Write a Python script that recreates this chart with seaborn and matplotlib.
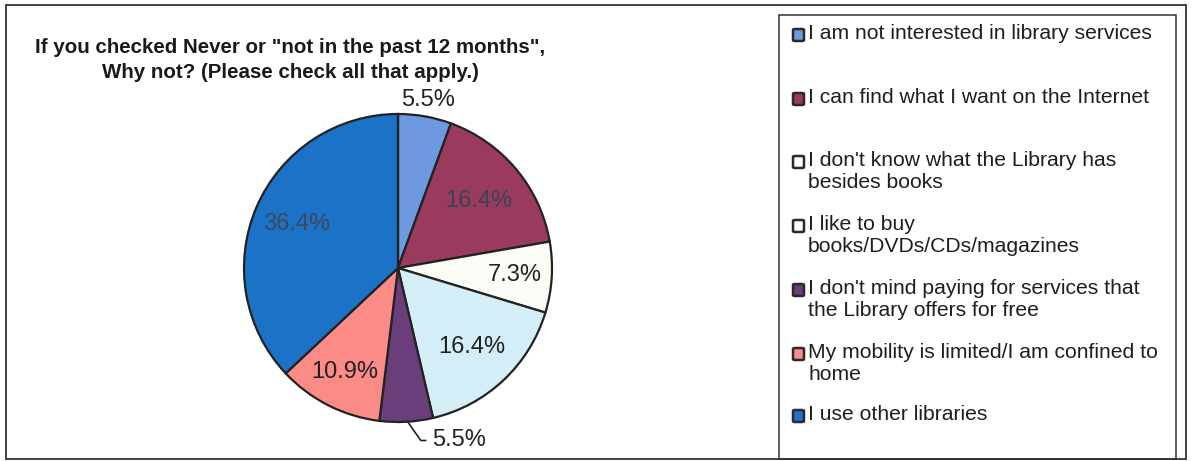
import matplotlib
matplotlib.use("Agg")
import matplotlib.pyplot as plt
import numpy as np
import seaborn as sns
from matplotlib.patches import Rectangle, FancyBboxPatch

# data
reasons = [
    "I am not interested in library services",
    "I can find what I want on the Internet",
    "I don't know what the Library has\nbesides books",
    "I like to buy\nbooks/DVDs/CDs/magazines",
    "I don't mind paying for services that\nthe Library offers for free",
    "My mobility is limited/I am confined to\nhome",
    "I use other libraries",
]
percents = [5.5, 16.4, 7.3, 16.4, 5.5, 10.9, 36.4]
colors = ["#6e98e0", "#9a3a5e", "#fcfcf6", "#d4eef8", "#6a3e7b", "#fa8b87", "#1b72c6"]
legend_colors = ["#6e98e0", "#9a3a5e", "#ffffff", "#ffffff", "#6a3e7b", "#fa8b87", "#1b72c6"]
title = 'If you checked Never or "not in the past 12 months",\nWhy not? (Please check all that apply.)'

sns.set_style("white")
plt.rcParams['font.family'] = ['Liberation Sans', 'DejaVu Sans']

W, H = 1193, 461
fig = plt.figure(figsize=(W / 100, H / 100), dpi=100)
fig.patch.set_facecolor("white")


def fx(px):
    return px / W


def fy(py):
    return 1 - py / H


# outer frame and legend box
fig.add_artist(Rectangle((fx(6), fy(459)), fx(1186) - fx(6), fy(5) - fy(459),
                         transform=fig.transFigure, fill=False, ec="#333333", lw=1.3))
fig.add_artist(Rectangle((fx(779), fy(459)), fx(1176) - fx(779), fy(15) - fy(459),
                         transform=fig.transFigure, fill=False, ec="#333333", lw=1.1))

# title
fig.text(fx(290), fy(60), title, ha="center", va="center", fontsize=14.8,
         fontweight="bold", color="#1a1a1a", linespacing=1.45)

# pie
cx, cy, r = 398, 268, 154
half = 160
ax = fig.add_axes([fx(cx - half), fy(cy + half), 2 * half / W, 2 * half / H])
lim = half / r
wedges, _ = ax.pie(percents, colors=colors, startangle=90, counterclock=False,
                   wedgeprops=dict(edgecolor="#222222", linewidth=1.6))
ax.set_xlim(-lim, lim)
ax.set_ylim(-lim, lim)
ax.set_aspect("equal")
ax.axis("off")

dists = [1.11, 0.68, 0.76, 0.70, None, 0.76, 0.72]
txt_colors = ["#222222", "#3a4450", "#222222", "#222222", "#222222", "#222222", "#3a4a58"]
for w, v, d, tc in zip(wedges, percents, dists, txt_colors):
    ang = np.deg2rad((w.theta1 + w.theta2) / 2)
    label = f"{v}%"
    if d is None:
        ax.annotate(label, xy=(0.05, -0.98), xytext=(0.22, -1.12),
                    fontsize=17, ha="left", va="center", color=tc,
                    arrowprops=dict(arrowstyle="-", color="#222222", lw=1.2,
                                    connectionstyle="angle,angleA=0,angleB=-55,rad=0"))
    else:
        ax.text(d * np.cos(ang), d * np.sin(ang), label, fontsize=17,
                ha="center", va="center", color=tc)

# legend
tops = [35, 99, 162, 226, 290, 354, 416]
for lab, c, t in zip(reasons, legend_colors, tops):
    fig.add_artist(FancyBboxPatch((fx(793), fy(t + 6)), fx(804) - fx(793), fy(t - 6) - fy(t + 6),
                                  boxstyle="round,pad=0,rounding_size=0.002",
                                  transform=fig.transFigure, fc=c, ec="#2a2a2a", lw=1.8))
    fig.text(fx(808), fy(t - 11), lab, ha="left", va="top",
             fontsize=15.2, color="#1e1e1e", linespacing=1.2)

fig.savefig("out.png", dpi=100, facecolor="white")
